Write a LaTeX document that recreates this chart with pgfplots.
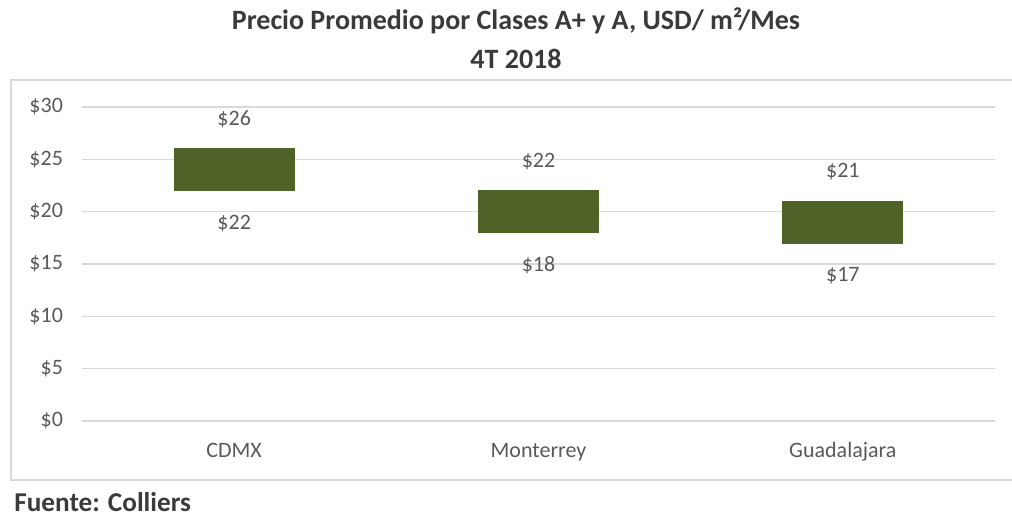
\documentclass[border=0pt]{standalone}
\usepackage{fontspec}
\setmainfont{Carlito}
\usepackage{pgfplots}
\pgfplotsset{compat=1.18}
\definecolor{barc}{HTML}{4F6228}
\definecolor{gridc}{HTML}{D9D9D9}
\definecolor{txt}{HTML}{595959}
\definecolor{ttl}{HTML}{3A3A3A}
\pgfplotsset{base/.style={
  at={(41pt,-210.5pt)}, anchor=south west,
  scale only axis, width=456.5pt, height=157pt,
  xmin=-0.5, xmax=2.5, ymin=0, ymax=30, clip=false}}
\begin{document}
\begin{tikzpicture}[x=0.5pt,y=-0.5pt]
\useasboundingbox (0,0) rectangle (1012,518);
\draw[gridc, line width=0.75pt] (11,80) rectangle (1020,480);
\node[font=\fontsize{14}{16}\selectfont\bfseries, text=ttl] at (516,21) {Precio Promedio por Clases A+ y A, USD/ m²/Mes};
\node[font=\fontsize{14}{16}\selectfont\bfseries, text=ttl] at (516,59) {4T 2018};
\node[anchor=west, inner sep=0pt, font=\fontsize{13.6}{16}\selectfont\bfseries, text=ttl] at (14,502) {Fuente: Colliers};
\begin{axis}[base,
  ybar stacked, bar width=60pt,
  axis line style={draw=none}, major tick length=0pt,
  xtick={0,1,2}, xticklabels={CDMX,Monterrey,Guadalajara},
  ytick={0,5,10,15,20,25,30},
  yticklabels={\$0,\$5,\$10,\$15,\$20,\$25,\$30},
  ymajorgrids, grid style={gridc, line width=0.75pt},
  tick label style={font=\fontsize{11}{13}\selectfont, text=txt},
  yticklabel style={xshift=-6pt},
  xticklabel style={anchor=center, yshift=-15.5pt, text height=1.5ex, text depth=0.3ex}]
\addplot[draw=none, fill=none] coordinates {(0,22) (1,18) (2,17)};
\addplot[fill=barc, draw=barc] coordinates {(0,4) (1,4) (2,4)};
\end{axis}
\begin{axis}[base, hide axis]
\addplot[draw=none, mark=none, point meta=explicit symbolic, nodes near coords,
  nodes near coords style={anchor=center, yshift=-16.25pt, font=\fontsize{11}{13}\selectfont, text=txt}]
  coordinates {(0,22) [\$22] (1,18) [\$18] (2,17) [\$17]};
\addplot[draw=none, mark=none, point meta=explicit symbolic, nodes near coords,
  nodes near coords style={anchor=center, yshift=14.75pt, font=\fontsize{11}{13}\selectfont, text=txt}]
  coordinates {(0,26) [\$26] (1,22) [\$22] (2,21) [\$21]};
\end{axis}
\end{tikzpicture}
\end{document}
